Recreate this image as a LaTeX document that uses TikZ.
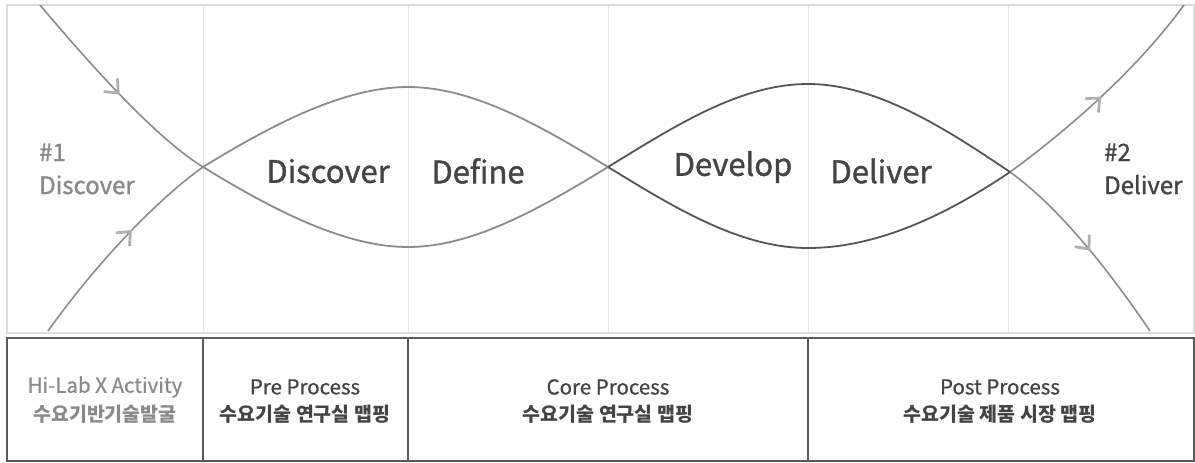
\documentclass[tikz,border=0pt]{standalone}
\usepackage{fontspec}
\setmainfont{Noto Sans CJK KR}
\newfontface\medface{Noto Sans CJK KR}[FakeBold=1.2]
\newfontface\lightmedface{Noto Sans CJK KR}[FakeBold=0.6]
\usetikzlibrary{arrows.meta,decorations.markings}
\definecolor{framec}{HTML}{DDDDDD}
\definecolor{gridc}{HTML}{E8E8E8}
\definecolor{curvea}{HTML}{8C8C8C}
\definecolor{curveb}{HTML}{555555}
\definecolor{tipc}{HTML}{B0B0B0}
\definecolor{textdark}{HTML}{444444}
\definecolor{textlight}{HTML}{8A8A8A}
\definecolor{tablec}{HTML}{5A5A5A}
\tikzset{
  outer/.style={curvea, line width=1.6pt},
  lobea/.style={curvea, line width=1.8pt},
  lobeb/.style={curveb, line width=1.8pt},
  withtip/.style={postaction={decorate}, decoration={markings,
     mark=at position #1 with {\arrow[tipc]{Straight Barb[length=11pt,width=19pt,line width=2.8pt]}}}},
  biglabel/.style={textdark, font=\medface\fontsize{31}{36}\selectfont, inner sep=0pt},
  sidelabel/.style={align=left, font=\medface\fontsize{24}{33}\selectfont, inner sep=0pt, anchor=west},
  celltitle/.style={font=\lightmedface\fontsize{20.5}{22}\selectfont, inner sep=0pt},
  cellkr/.style={font=\bfseries\fontsize{19.5}{22}\selectfont, inner sep=0pt},
}
\begin{document}
\begin{tikzpicture}[x=1pt,y=-1pt]
\useasboundingbox (0,0) rectangle (1195,463);
\fill[white] (0,0) rectangle (1195,463);
% grid lines in the upper area
\foreach \gx in {203,408,608,808,1008}
  \draw[gridc, line width=0.8pt] (\gx,6) -- (\gx,332);
% upper frame
\draw[framec, line width=1.6pt] (7,5) rectangle (1194,333);
% coordinates of the curves
\coordinate (a0) at (40,5);
\coordinate (x1) at (203,167);
\coordinate (x2) at (608,167);
\coordinate (x3) at (1010,172);
\coordinate (a4) at (1150,331);
\coordinate (b0) at (48,331);
\coordinate (b4) at (1184,5);
% outer incoming/outgoing segments
\draw[outer, withtip=0.52] (a0) .. controls (105,82) and (160,140) .. (x1);
\draw[outer, withtip=0.58] (b0) .. controls (90,272) and (150,205) .. (x1);
\draw[outer, withtip=0.49] (x3) .. controls (1065,132) and (1135,72) .. (b4);
\draw[outer, withtip=0.53] (x3) .. controls (1060,208) and (1110,272) .. (a4);
% first lobe
\draw[lobea] (x1) .. controls (270,208) and (343,247) .. (408,247)
                 .. controls (473,247) and (541,208) .. (x2);
\draw[lobea] (x1) .. controls (270,126) and (343,87) .. (408,87)
                 .. controls (473,87) and (541,126) .. (x2);
% second lobe
\draw[lobeb] (x2) .. controls (675,126) and (740,84) .. (808,84)
                 .. controls (876,84) and (945,128) .. (x3);
\draw[lobeb] (x2) .. controls (675,208) and (740,248) .. (808,248)
                 .. controls (876,248) and (945,216) .. (x3);
% labels
\node[biglabel] (ldiscover) at (328,171) {Discover};
\node[biglabel] (ldefine) at (478,171) {Define};
\node[biglabel] (ldevelop) at (733,167) {Develop};
\node[biglabel] (ldeliver) at (881,171) {Deliver};
\node[sidelabel, textlight] (s1) at (39,169) {\#1\\Discover};
\node[sidelabel, textdark] (s2) at (1104,169) {\#2\\Deliver};
% table
\draw[tablec, line width=1.4pt] (7,338) rectangle (1194,461);
\foreach \tx in {203,408,808}
  \draw[tablec, line width=1.4pt] (\tx,338) -- (\tx,461);
\node[celltitle, textlight] (t1) at (105,387) {Hi-Lab X Activity};
\node[cellkr, textlight] (k1) at (105,414) {수요기반기술발굴};
\node[celltitle, textdark] (t2) at (305,387) {Pre Process};
\node[cellkr, textdark] (k2) at (305,414) {수요기술 연구실 맵핑};
\node[celltitle, textdark] (t3) at (608,387) {Core Process};
\node[cellkr, textdark] (k3) at (608,414) {수요기술 연구실 맵핑};
\node[celltitle, textdark] (t4) at (1000,387) {Post Process};
\node[cellkr, textdark] (k4) at (1000,414) {수요기술 제품 시장 맵핑};
\end{tikzpicture}
\end{document}
